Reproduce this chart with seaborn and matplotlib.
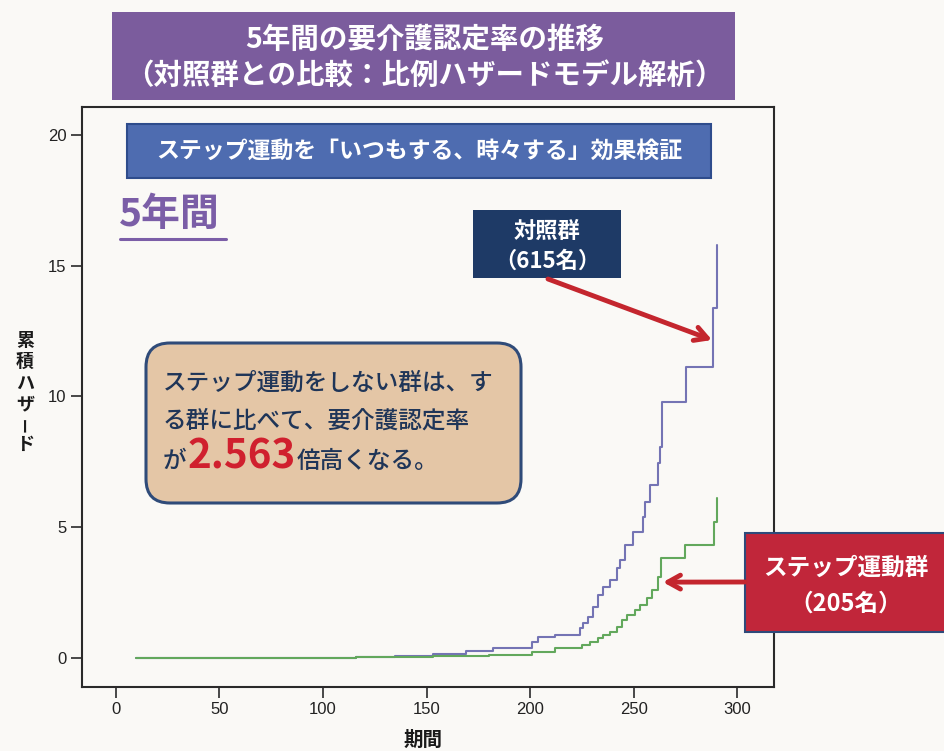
import matplotlib
matplotlib.use("Agg")
import matplotlib.pyplot as plt
import pandas as pd
import seaborn as sns
from matplotlib.patches import FancyBboxPatch

# Cumulative hazard step curves (time, cumulative hazard after each event)
ctrl_t = [10, 116, 135, 153, 169, 182, 200.8, 203.9, 212, 224.1, 225.7, 228.1,
          230.5, 232.9, 235.3, 238.6, 241.8, 243.4, 245.6, 249.8, 254.6, 255.5,
          257.9, 261.9, 262.7, 263.5, 275.2, 288.1, 290]
ctrl_h = [0.0, 0.03, 0.07, 0.14, 0.28, 0.39, 0.62, 0.80, 0.88, 1.14, 1.33, 1.58,
          1.96, 2.41, 2.73, 2.98, 3.43, 3.75, 4.32, 4.83, 5.40, 5.98,
          6.62, 7.45, 8.08, 9.80, 11.14, 13.37, 15.80]

step_t = [10, 116, 153, 180, 201, 212, 224.9, 228.9, 232.9, 235.3, 238.6, 241.8,
          244.2, 246.6, 250.6, 253, 256.3, 258.7, 261.9, 263, 274.8, 288.8, 290]
step_h = [0.0, 0.02, 0.06, 0.10, 0.24, 0.37, 0.50, 0.62, 0.75, 0.88, 1.00, 1.20,
          1.45, 1.64, 1.84, 2.03, 2.28, 2.60, 3.11, 3.81, 4.32, 5.21, 6.10]

group_names = ["対照群", "ステップ運動群"]
group_sizes = ["（615名）", "（205名）"]
x_ticks = [0, 50, 100, 150, 200, 250, 300]
y_ticks = [0, 5, 10, 15, 20]
hazard_ratio = "2.563"

sns.set_style("ticks")
plt.rcParams["font.family"] = ["Noto Sans CJK JP", "DejaVu Sans"]

W, H = 945, 751
BG = "#FAF9F6"
fig = plt.figure(figsize=(W / 100, H / 100), dpi=100)
fig.patch.set_facecolor(BG)

# main plotting area (pixel frame)
L, R, T, B = 82, 774, 107, 687
ax = fig.add_axes([L / W, 1 - B / H, (R - L) / W, (B - T) / H])
ax.set_facecolor(BG)

df = pd.DataFrame({
    "期間": ctrl_t + step_t,
    "累積ハザード": ctrl_h + step_h,
    "群": [group_names[0]] * len(ctrl_t) + [group_names[1]] * len(step_t),
})
sns.lineplot(data=df, x="期間", y="累積ハザード", hue="群",
             palette={group_names[0]: "#7474B4", group_names[1]: "#62A85C"},
             estimator=None, drawstyle="steps-post", linewidth=1.5,
             legend=False, ax=ax)

ax.set_xlim(-16.3, 317.7)
ax.set_ylim(-1.11, 21.07)
ax.set_xticks(x_ticks)
ax.set_yticks(y_ticks)
ax.set_xlabel("")
ax.set_ylabel("")
for side in ["left", "right", "top", "bottom"]:
    ax.spines[side].set_visible(True)
    ax.spines[side].set_linewidth(1.5)
    ax.spines[side].set_color("#2a2a2a")
ax.tick_params(length=8, width=1.2, color="#2a2a2a", labelsize=12, pad=3,
               labelcolor="#222222")
for lbl in ax.get_xticklabels() + ax.get_yticklabels():
    lbl.set_fontfamily("Liberation Sans")

# overlay in pixel coordinates for boxes, labels and arrows
ov = fig.add_axes([0, 0, 1, 1], zorder=5)
ov.set_xlim(0, W)
ov.set_ylim(H, 0)
ov.axis("off")
ov.patch.set_alpha(0)


def box(x0, y0, x1, y1, fc, ec=None, lw=0.0, rounding=0):
    style = f"round,pad=0,rounding_size={rounding}" if rounding else "square,pad=0"
    ov.add_patch(FancyBboxPatch((x0, y0), x1 - x0, y1 - y0, boxstyle=style,
                                fc=fc, ec=ec if ec else fc, lw=lw))


def label(x, y, s, size, color="white", ha="center", weight="bold", **kw):
    ov.text(x, y, s, fontsize=size, color=color, ha=ha, va="center",
            fontweight=weight, **kw)


# axis titles
label(423, 740, "期間", 14, color="#1a1a1a")
ylab_chars = list("累積ハザード")
ylab_y = [340, 361, 383, 404, 424, 444]
for ch, yy in zip(ylab_chars, ylab_y):
    if ch == "ー":
        # long-vowel mark drawn upright as in vertical writing
        label(25, yy, ch, 11, color="#1a1a1a", rotation=90)
    else:
        label(25, yy, ch, 13, color="#1a1a1a")

# title banner
box(112, 12, 735, 100, "#7B5C9D")
label(425, 40, "5年間の要介護認定率の推移", 20.5)
label(424, 76, "（対照群との比較：比例ハザードモデル解析）", 20.5)

# subtitle banner
box(127, 124, 711, 178, "#4E6CB0", ec="#2E4C8C", lw=1.5)
label(419, 151, "ステップ運動を「いつもする、時々する」効果検証", 16.5)

# period label
label(119, 214, "5年間", 28, color="#7B5EA7", ha="left")
ov.plot([120, 226], [239, 239], color="#7B5EA7", lw=2.2)

# control group tag
box(473, 210, 621, 278, "#1E3A66")
label(547, 231, group_names[0], 16)
label(547, 261, group_sizes[0], 16)

# exercise group tag
box(745, 533, 952, 632, "#C1263A", ec="#2E4A7A", lw=1.5)
label(846, 568, group_names[1], 17)
label(846, 604, group_sizes[1], 17)

# summary note
box(146, 343, 521, 503, "#E4C6A6", ec="#2F4B79", lw=2.2, rounding=24)
NAVY = "#1F3558"
label(163, 383, "ステップ運動をしない群は、す", 17, color=NAVY, ha="left", weight="medium")
label(163, 421, "る群に比べて、要介護認定率", 17, color=NAVY, ha="left", weight="medium")
label(163, 461, "が", 17, color=NAVY, ha="left", weight="medium")
label(188, 457, hazard_ratio, 29, color="#D0202E", ha="left", weight="bold")
label(297, 461, "倍高くなる。", 17, color=NAVY, ha="left", weight="medium")

# pointer arrows to the curves
arrow = dict(arrowstyle="->,head_length=0.9,head_width=0.5", color="#C4262E",
             lw=3.5, shrinkA=0, shrinkB=0)
ov.annotate("", xy=(287.8, 12.16), xycoords=ax.transData,
            xytext=(548, 279), textcoords="data", arrowprops=arrow)
ov.annotate("", xy=(264.1, 2.9), xycoords=ax.transData,
            xytext=(745, 582), textcoords="data", arrowprops=arrow)

fig.savefig("out.png", dpi=100, facecolor=BG)
